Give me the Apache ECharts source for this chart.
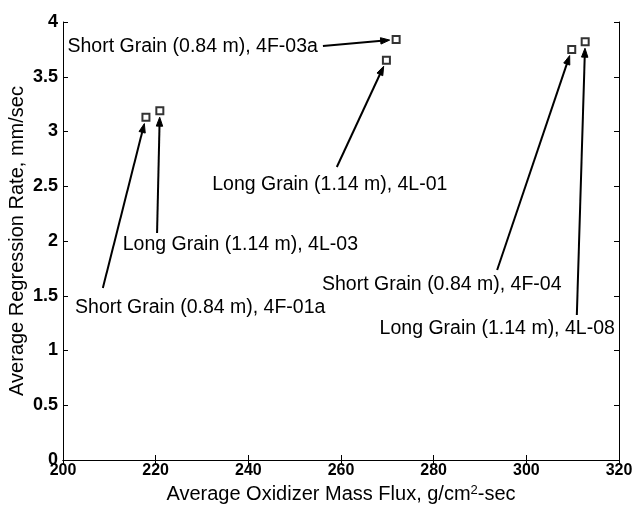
<!DOCTYPE html>
<html>
<head>
<meta charset="utf-8">
<script src="https://cdn.jsdelivr.net/npm/echarts@6/dist/echarts.min.js"></script>
<style>
  html, body { margin: 0; padding: 0; background: #fff; }
  #chart { width: 639px; height: 506px; }
</style>
</head>
<body>
<div id="chart"></div>
<script>
// Average oxidizer mass flux (g/cm^2-sec) and regression rate (mm/sec) per test
const fluxValues = [217.9, 220.9, 271.9, 269.8, 309.8, 312.7];
const rateValues = [3.13, 3.19, 3.84, 3.65, 3.75, 3.82];
const runNames = [
  'Short Grain (0.84 m), 4F-01a',
  'Long Grain (1.14 m), 4L-03',
  'Short Grain (0.84 m), 4F-03a',
  'Long Grain (1.14 m), 4L-01',
  'Short Grain (0.84 m), 4F-04',
  'Long Grain (1.14 m), 4L-08'
];
const xRange = [200, 320, 20];
const yRange = [0, 4, 0.5];

// Callout placement, in axis units: arrow tail, text anchor, text alignment
const calloutLayout = [
  { tail: [208.6, 1.571], text: [202.6, 1.388], align: 'left' },
  { tail: [220.3, 2.073], text: [212.9, 1.963], align: 'left' },
  { tail: [256.1, 3.781], text: [255.0, 3.772], align: 'right' },
  { tail: [259.1, 2.676], text: [232.2, 2.511], align: 'left' },
  { tail: [293.7, 1.735], text: [255.9, 1.598], align: 'left' },
  { tail: [310.9, 1.324], text: [319.1, 1.196], align: 'right' }
];

const FONT = '"Liberation Sans", Arial, Helvetica, sans-serif';
const chart = echarts.init(document.getElementById('chart'));

const frameAxis = {
  axisLine: { show: true, lineStyle: { color: '#000', width: 1 } },
  axisTick: { show: true, inside: true, length: 5, lineStyle: { color: '#000', width: 1 } },
  splitLine: { show: false }
};

chart.setOption({
  animation: false,
  backgroundColor: '#fff',
  grid: { left: 63, right: 20, top: 22, bottom: 46, containLabel: false, outerBoundsMode: 'none' },
  xAxis: [
    Object.assign({
      type: 'value', min: xRange[0], max: xRange[1], interval: xRange[2],
      position: 'bottom',
      axisLabel: { color: '#000', fontFamily: FONT, fontWeight: 'bold', fontSize: 16, margin: 3 },
      name: '{t|Average Oxidizer Mass Flux, g/cm}{s|2}{t|-sec}',
      nameLocation: 'middle', nameGap: 23,
      nameTextStyle: {
        rich: {
          t: { fontFamily: FONT, fontSize: 20, color: '#000' },
          s: { fontFamily: FONT, fontSize: 13, color: '#000', padding: [0, 0, 9, 0] }
        }
      }
    }, frameAxis),
    Object.assign({
      type: 'value', min: xRange[0], max: xRange[1], interval: xRange[2],
      position: 'top', axisLabel: { show: false }
    }, frameAxis)
  ],
  yAxis: [
    Object.assign({
      type: 'value', min: yRange[0], max: yRange[1], interval: yRange[2],
      position: 'left',
      axisLabel: { color: '#000', fontFamily: FONT, fontWeight: 'bold', fontSize: 18, margin: 5 },
      name: 'Average Regression Rate, mm/sec',
      nameLocation: 'middle', nameGap: 36, nameMoveOverlap: false,
      nameTextStyle: { fontFamily: FONT, fontSize: 20, color: '#000' }
    }, frameAxis),
    Object.assign({
      type: 'value', min: yRange[0], max: yRange[1], interval: yRange[2],
      position: 'right', axisLabel: { show: false }
    }, frameAxis)
  ],
  series: [{
    type: 'scatter',
    xAxisIndex: 0, yAxisIndex: 0,
    symbol: 'rect',
    symbolSize: 7,
    itemStyle: { color: '#fff', borderColor: '#000', borderWidth: 2 },
    data: fluxValues.map((x, i) => [x, rateValues[i]]),
    z: 5
  }]
});

// Callout arrows and texts, placed through the chart's own coordinate system
function drawCallouts() {
  const elements = [];
  const headLen = 9, headHalf = 3.2, gap = 6.5;
  calloutLayout.forEach((c, i) => {
    const p = chart.convertToPixel({ gridIndex: 0 }, [fluxValues[i], rateValues[i]]);
    const t = chart.convertToPixel({ gridIndex: 0 }, c.tail);
    const a = chart.convertToPixel({ gridIndex: 0 }, c.text);
    const dx = p[0] - t[0], dy = p[1] - t[1];
    const len = Math.sqrt(dx * dx + dy * dy);
    const ux = dx / len, uy = dy / len;
    const tip = [p[0] - ux * gap, p[1] - uy * gap];
    const base = [tip[0] - ux * headLen, tip[1] - uy * headLen];
    elements.push({
      type: 'line', silent: true, z: 10,
      shape: { x1: t[0], y1: t[1], x2: base[0] + ux * 1, y2: base[1] + uy * 1 },
      style: { stroke: '#000', lineWidth: 2 }
    });
    elements.push({
      type: 'polygon', silent: true, z: 10,
      shape: { points: [tip, [base[0] - uy * headHalf, base[1] + ux * headHalf], [base[0] + uy * headHalf, base[1] - ux * headHalf]] },
      style: { fill: '#000', stroke: '#000', lineWidth: 1 }
    });
    elements.push({
      type: 'text', silent: true, z: 10,
      x: a[0], y: a[1],
      style: {
        text: runNames[i], fill: '#000', font: '19.5px ' + FONT,
        align: c.align, verticalAlign: 'middle'
      }
    });
  });
  chart.setOption({ graphic: elements });
}
drawCallouts();
</script>
</body>
</html>
